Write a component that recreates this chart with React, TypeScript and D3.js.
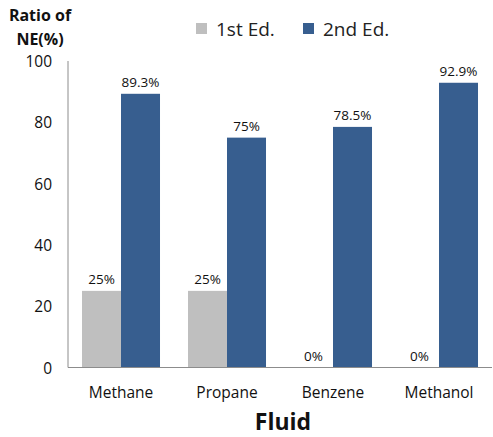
import React from "react";
import * as d3 from "d3";

const categories = ["Methane", "Propane", "Benzene", "Methanol"];
const seriesNames = ["1st Ed.", "2nd Ed."];
const firstEd = [25, 25, 0, 0];
const secondEd = [89.3, 75, 78.5, 92.9];
const firstEdLabels = ["25%", "25%", "0%", "0%"];
const secondEdLabels = ["89.3%", "75%", "78.5%", "92.9%"];
const yTicks = [0, 20, 40, 60, 80, 100];

const W = 493;
const H = 437;
const plot = { left: 68, right: 492, top: 61, bottom: 367.5 };
const colors = ["#BFBFBF", "#375E8F"];
const font = "'Open Sans', 'DejaVu Sans', sans-serif";

export default function App() {
  const x0 = d3
    .scaleBand<string>()
    .domain(categories)
    .range([plot.left, plot.right])
    .paddingInner(0.264)
    .paddingOuter(0.132);
  const x1 = d3
    .scaleBand<string>()
    .domain(seriesNames)
    .range([0, x0.bandwidth()]);
  const y = d3.scaleLinear().domain([0, 100]).range([plot.bottom, plot.top]);

  const series = [
    { name: seriesNames[0], values: firstEd, labels: firstEdLabels },
    { name: seriesNames[1], values: secondEd, labels: secondEdLabels },
  ];

  return (
    <svg
      width={W}
      height={H}
      style={{ position: "absolute", left: 0, top: 0, background: "#fff" }}
      fontFamily={font}
    >
      {/* y-axis title */}
      <text x={40} y={21} textAnchor="middle" fontSize={16} fontWeight="bold" fill="#111">
        Ratio of
      </text>
      <text x={40} y={45} textAnchor="middle" fontSize={16} fontWeight="bold" fill="#111">
        NE(%)
      </text>

      {/* legend */}
      {series.map((s, i) => {
        const lx = [196, 303][i];
        return (
          <g key={s.name}>
            <rect x={lx} y={23} width={11} height={11} fill={colors[i]} />
            <text x={lx + 20} y={35.5} fontSize={19} fill="#222">
              {s.name}
            </text>
          </g>
        );
      })}

      {/* bars and value labels */}
      {series.map((s, si) =>
        categories.map((c, ci) => {
          const bx = (x0(c) ?? 0) + (x1(s.name) ?? 0);
          const by = y(s.values[ci]);
          return (
            <g key={`${s.name}-${c}`}>
              <rect
                x={bx}
                y={by}
                width={x1.bandwidth()}
                height={plot.bottom - by}
                fill={colors[si]}
              />
              <text
                x={bx + x1.bandwidth() / 2}
                y={by - 7}
                textAnchor="middle"
                fontSize={13.5}
                fill="#111"
              >
                {s.labels[ci]}
              </text>
            </g>
          );
        })
      )}

      {/* axes */}
      <line x1={plot.left} x2={plot.left} y1={plot.top} y2={plot.bottom} stroke="#8C8C8C" strokeWidth={1} />
      <line x1={plot.left} x2={plot.right} y1={plot.bottom} y2={plot.bottom} stroke="#8C8C8C" strokeWidth={1} />

      {yTicks.map((t) => (
        <text key={t} x={52} y={y(t) + 6} textAnchor="end" fontSize={15.5} fill="#111">
          {t}
        </text>
      ))}

      {categories.map((c) => (
        <text
          key={c}
          x={(x0(c) ?? 0) + x0.bandwidth() / 2}
          y={398}
          textAnchor="middle"
          fontSize={15.5}
          fill="#111"
        >
          {c}
        </text>
      ))}

      <text x={283} y={430} textAnchor="middle" fontSize={23} fontWeight="bold" fill="#111">
        Fluid
      </text>
    </svg>
  );
}
